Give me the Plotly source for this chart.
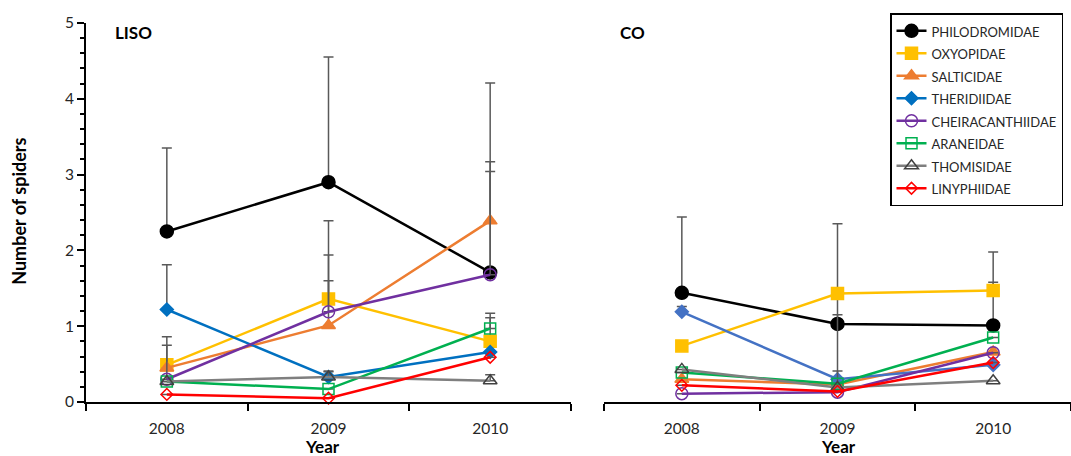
import plotly.graph_objects as go

years = [2008, 2009, 2010]
families = ["PHILODROMIDAE", "OXYOPIDAE", "SALTICIDAE", "THERIDIIDAE",
            "CHEIRACANTHIIDAE", "ARANEIDAE", "THOMISIDAE", "LINYPHIIDAE"]

# LISO panel means and upper error bars
liso_philodromidae = [2.25, 2.90, 1.71]
liso_oxyopidae = [0.49, 1.36, 0.80]
liso_salticidae = [0.45, 1.01, 2.39]
liso_theridiidae = [1.22, 0.33, 0.66]
liso_cheiracanthiidae = [0.30, 1.19, 1.68]
liso_araneidae = [0.27, 0.17, 0.97]
liso_thomisidae = [0.27, 0.33, 0.28]
liso_linyphiidae = [0.10, 0.05, 0.59]

liso_err_philodromidae = [1.10, 1.65, 2.50]
liso_err_oxyopidae = [0.08, 0.58, 0.31]
liso_err_salticidae = [0.30, 1.38, 0.78]
liso_err_theridiidae = [0.59, 0.07, 0.0]
liso_err_cheiracanthiidae = [0.56, 0.41, 1.36]
liso_err_araneidae = [0.0, 0.0, 0.20]
liso_err_thomisidae = [0.0, 0.08, 0.08]
liso_err_linyphiidae = [0.0, 0.0, 0.0]

# CO panel means and upper error bars
co_philodromidae = [1.44, 1.03, 1.01]
co_oxyopidae = [0.74, 1.43, 1.47]
co_salticidae = [0.30, 0.23, 0.66]
co_theridiidae = [1.19, 0.30, 0.49]
co_cheiracanthiidae = [0.11, 0.13, 0.65]
co_araneidae = [0.39, 0.24, 0.85]
co_thomisidae = [0.43, 0.19, 0.28]
co_linyphiidae = [0.22, 0.14, 0.52]

co_err_philodromidae = [1.00, 1.32, 0.97]
co_err_oxyopidae = [0.0, 0.0, 0.11]
co_err_salticidae = [0.0, 0.0, 0.0]
co_err_theridiidae = [0.07, 0.11, 0.0]
co_err_cheiracanthiidae = [0.0, 0.0, 0.0]
co_err_araneidae = [0.0, 0.91, 0.0]
co_err_thomisidae = [0.0, 0.0, 0.0]
co_err_linyphiidae = [0.0, 0.0, 0.0]

liso_vals = [liso_philodromidae, liso_oxyopidae, liso_salticidae, liso_theridiidae,
             liso_cheiracanthiidae, liso_araneidae, liso_thomisidae, liso_linyphiidae]
liso_errs = [liso_err_philodromidae, liso_err_oxyopidae, liso_err_salticidae, liso_err_theridiidae,
             liso_err_cheiracanthiidae, liso_err_araneidae, liso_err_thomisidae, liso_err_linyphiidae]
co_vals = [co_philodromidae, co_oxyopidae, co_salticidae, co_theridiidae,
           co_cheiracanthiidae, co_araneidae, co_thomisidae, co_linyphiidae]
co_errs = [co_err_philodromidae, co_err_oxyopidae, co_err_salticidae, co_err_theridiidae,
           co_err_cheiracanthiidae, co_err_araneidae, co_err_thomisidae, co_err_linyphiidae]

colors = ["#000000", "#FFC000", "#ED7D31", "#0070C0", "#7030A0", "#00B050", "#7F7F7F", "#FF0000"]
co_colors = ["#000000", "#FFC000", "#ED7D31", "#4472C4", "#7030A0", "#00B050", "#7F7F7F", "#FF0000"]
symbols = ["circle", "square", "triangle-up", "diamond", "circle-open", "square-open",
           "triangle-up-open", "diamond-open"]
sizes = [13, 12, 12, 10, 12, 11, 12, 9]
marker_line_colors = [None, None, None, None, None, None, "#404040", None]

FONT = "Lato"
fig = go.Figure()

def add_panel(vals, errs, cols, xa, ya, show):
    for i, name in enumerate(families):
        mlc = marker_line_colors[i] or cols[i]
        fig.add_trace(go.Scatter(
            x=years, y=vals[i], name="<span style='font-size:13px'>" + name + "</span>",
            mode="lines+markers", xaxis=xa, yaxis=ya, showlegend=show,
            line=dict(color=cols[i], width=2.5),
            marker=dict(symbol=symbols[i], size=sizes[i], color=cols[i] if "open" not in symbols[i] else mlc,
                        line=dict(color=mlc, width=1.5)),
            error_y=dict(type="data", symmetric=False, array=errs[i],
                         arrayminus=[0] * len(errs[i]), color="#595959", thickness=1.5, width=5),
            cliponaxis=False,
        ))

add_panel(liso_vals, liso_errs, colors, "x", "y", True)
add_panel(co_vals, co_errs, co_colors, "x2", "y2", False)

W, H = 1071, 456
top, bottom = 23, 53.5
ph = H - top - bottom

common_x = dict(range=[2007.5, 2010.5], tickvals=years, ticktext=[str(y) for y in years],
                ticks="outside", ticklen=12, tickcolor="rgba(0,0,0,0)",
                showline=True, linecolor="black", linewidth=1.75, showgrid=False, zeroline=False,
                tickfont=dict(family=FONT, size=15.5, color="#262626"),
                minor=dict(tickvals=[2007.5, 2008.5, 2009.5, 2010.5], ticks="outside", ticklen=7,
                           tickcolor="black", tickwidth=1.5, showgrid=False))

fig.update_layout(
    width=W, height=H, autosize=False,
    margin=dict(l=0, r=0, t=top, b=bottom),
    paper_bgcolor="white", plot_bgcolor="white",
    xaxis=dict(domain=[86 / W, 571 / W], anchor="y", **common_x),
    xaxis2=dict(domain=[604 / W, 1.0], anchor="y2", **common_x),
    yaxis=dict(range=[0, 5], dtick=1, ticks="outside", ticklen=7, tickwidth=1.5, tickcolor="black",
               showline=True, linecolor="black", linewidth=1.75, showgrid=False, zeroline=False,
               tickfont=dict(family=FONT, size=15.5, color="#262626"), anchor="x",
               minor=dict(dtick=0.2, ticks="outside", ticklen=4, tickcolor="black", tickwidth=1.5,
                          showgrid=False)),
    yaxis2=dict(range=[0, 5], showline=False, showticklabels=False, ticks="", showgrid=False,
                zeroline=False, anchor="x2"),
    legend=dict(x=890 / W, y=(H - bottom - 13) / ph, xanchor="left", yanchor="top",
                bgcolor="white", bordercolor="black", borderwidth=1.5, entrywidth=142,
                font=dict(family=FONT, size=15.0, color="#262626"), tracegroupgap=0),
    showlegend=True,
)

def px_x(p):
    return p / W

def px_y(p):
    return (H - bottom - p) / ph

annos = [
    dict(text="<b>LISO</b>", x=px_x(113), y=px_y(33), xanchor="left", yanchor="middle", size=17),
    dict(text="<b>CO</b>", x=px_x(618), y=px_y(33), xanchor="left", yanchor="middle", size=17),
    dict(text="<b>Year</b>", x=px_x(322), y=px_y(447), xanchor="center", yanchor="middle", size=17),
    dict(text="<b>Year</b>", x=px_x(838), y=px_y(447), xanchor="center", yanchor="middle", size=17),
]
for a in annos:
    fig.add_annotation(text=a["text"], x=a["x"], y=a["y"], xref="paper", yref="paper",
                       xanchor=a["xanchor"], yanchor=a["yanchor"], showarrow=False,
                       font=dict(family=FONT, size=a["size"], color="black"))
fig.add_annotation(text="<b>Number of spiders</b>", x=px_x(19), y=px_y(212), xref="paper", yref="paper",
                   xanchor="center", yanchor="middle", showarrow=False, textangle=-90,
                   font=dict(family=FONT, size=18, color="black"))

fig.write_html("out.html", config={"displayModeBar": False},
               post_script="document.body.style.margin='0';")
